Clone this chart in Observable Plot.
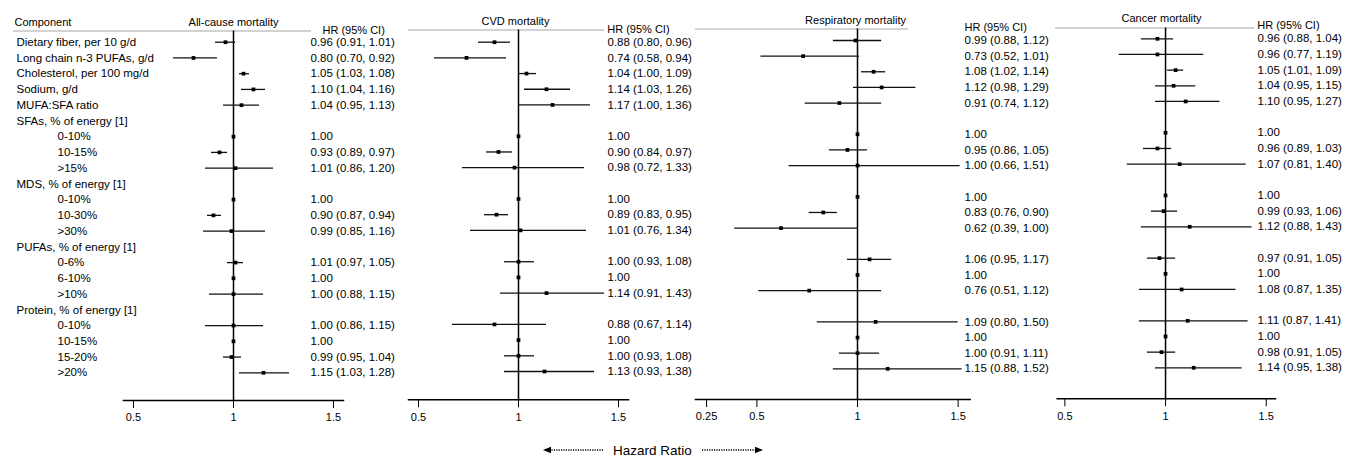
<!DOCTYPE html>
<html><head><meta charset="utf-8">
<script src="https://cdn.jsdelivr.net/npm/d3@7"></script>
<script src="https://cdn.jsdelivr.net/npm/@observablehq/plot@0.6"></script>
<style>
body{margin:0;background:#fff;font-family:"Liberation Sans",Arial,sans-serif;}
#wrap{position:relative;width:1346px;height:456px;overflow:hidden;background:#fff;}
#wrap svg{position:absolute;overflow:visible;}
</style></head><body><div id="wrap"></div>
<script>
// ---- data ----
const rowLabels = [
  "Dietary fiber, per 10 g/d", "Long chain n-3 PUFAs, g/d", "Cholesterol, per 100 mg/d", "Sodium, g/d", "MUFA:SFA ratio",
  "SFAs, % of energy [1]", "0-10%", "10-15%", ">15%",
  "MDS, % of energy [1]", "0-10%", "10-30%", ">30%",
  "PUFAs, % of energy [1]", "0-6%", "6-10%", ">10%",
  "Protein, % of energy [1]", "0-10%", "10-15%", "15-20%", ">20%"
];
const rowIsSub = [0,0,0,0,0, 0,1,1,1, 0,1,1,1, 0,1,1,1, 0,1,1,1,1];

const panelTitles = ["All-cause mortality", "CVD mortality", "Respiratory mortality", "Cancer mortality"];

const allCauseHR = [0.96,0.80,1.05,1.10,1.04, null,1.00,0.93,1.01, null,1.00,0.90,0.99, null,1.01,1.00,1.00, null,1.00,1.00,0.99,1.15];
const allCauseLo = [0.91,0.70,1.03,1.04,0.95, null,null,0.89,0.86, null,null,0.87,0.85, null,0.97,null,0.88, null,0.86,null,0.95,1.03];
const allCauseHi = [1.01,0.92,1.08,1.16,1.13, null,null,0.97,1.20, null,null,0.94,1.16, null,1.05,null,1.15, null,1.15,null,1.04,1.28];

const cvdHR = [0.88,0.74,1.04,1.14,1.17, null,1.00,0.90,0.98, null,1.00,0.89,1.01, null,1.00,1.00,1.14, null,0.88,1.00,1.00,1.13];
const cvdLo = [0.80,0.58,1.00,1.03,1.00, null,null,0.84,0.72, null,null,0.83,0.76, null,0.93,null,0.91, null,0.67,null,0.93,0.93];
const cvdHi = [0.96,0.94,1.09,1.26,1.36, null,null,0.97,1.33, null,null,0.95,1.34, null,1.08,null,1.43, null,1.14,null,1.08,1.38];

const respHR = [0.99,0.73,1.08,1.12,0.91, null,1.00,0.95,1.00, null,1.00,0.83,0.62, null,1.06,1.00,0.76, null,1.09,1.00,1.00,1.15];
const respLo = [0.88,0.52,1.02,0.98,0.74, null,null,0.86,0.66, null,null,0.76,0.39, null,0.95,null,0.51, null,0.80,null,0.91,0.88];
const respHi = [1.12,1.01,1.14,1.29,1.12, null,null,1.05,1.51, null,null,0.90,1.00, null,1.17,null,1.12, null,1.50,null,1.11,1.52];

const cancerHR = [0.96,0.96,1.05,1.04,1.10, null,1.00,0.96,1.07, null,1.00,0.99,1.12, null,0.97,1.00,1.08, null,1.11,1.00,0.98,1.14];
const cancerLo = [0.88,0.77,1.01,0.95,0.95, null,null,0.89,0.81, null,null,0.93,0.88, null,0.91,null,0.87, null,0.87,null,0.91,0.95];
const cancerHi = [1.04,1.19,1.09,1.15,1.27, null,null,1.03,1.40, null,null,1.06,1.43, null,1.05,null,1.35, null,1.41,null,1.05,1.38];

const ticksStd = [0.5, 1, 1.5];
const ticksResp = [0.25, 0.5, 1, 1.5];

// ---- layout (positions / styles) ----
const panels = [
  {title: panelTitles[0], hr: allCauseHR, lo: allCauseLo, hi: allCauseHi, ticks: ticksStd, domain: [0.45, 1.55],
   left: 0, width: 400, mL: 123, mR: 57, mT: 30.5, axisY: 400, rows: [41.7, 372.3],
   headL: -110, headR: 33, titleDx: 0, titleDy: -9, hrDx: -21, hrDy: -0.5, valDx: -33, labels: true},
  {title: panelTitles[1], hr: cvdHR, lo: cvdLo, hi: cvdHi, ticks: ticksStd, domain: [0.45, 1.55],
   left: 400, width: 290, mL: 8, mR: 62, mT: 29.5, axisY: 399.3, rows: [41.7, 371],
   headL: 0, headR: 25, titleDx: -3, titleDy: -8.2, hrDx: -21.3, hrDy: -0.2, valDx: -21, labels: false},
  {title: panelTitles[2], hr: respHR, lo: respLo, hi: respHi, ticks: ticksResp, domain: [0.195, 1.56],
   left: 690, width: 362, mL: 5, mR: 82.3, mT: 28.5, axisY: 399, rows: [40, 368.3],
   headL: 0, headR: 62.7, titleDx: -2, titleDy: -8.5, hrDx: -5.7, hrDy: -1.8, valDx: -5.7, labels: false},
  {title: panelTitles[3], hr: cancerHR, lo: cancerLo, hi: cancerHi, ticks: ticksStd, domain: [0.462, 1.546],
   left: 1052, width: 294, mL: 4.7, mR: 71, mT: 27.5, axisY: 398.3, rows: [38.3, 367.3],
   headL: -1.7, headR: 22, titleDx: -4, titleDy: -9.2, hrDx: -18.3, hrDy: -2.5, valDx: -18, labels: false}
];

const H = 432;
const FONT = "'Liberation Sans', Arial, Helvetica, sans-serif";
const wrap = document.getElementById("wrap");

function fmt(d) {
  return d.hr.toFixed(2) + (d.lo != null ? ` (${d.lo.toFixed(2)}, ${d.hi.toFixed(2)})` : "");
}

for (const p of panels) {
  const data = rowLabels.map((label, i) => ({row: i, label, sub: rowIsSub[i], hr: p.hr[i], lo: p.lo[i], hi: p.hi[i]}));
  const pts = data.filter(d => d.hr != null);
  const cis = data.filter(d => d.lo != null);
  const marks = [
    Plot.frame({anchor: "top", stroke: "#a6a6a6", strokeWidth: 1, insetLeft: p.headL, insetRight: p.headR}),
    Plot.ruleX([1], {stroke: "#000", strokeWidth: 1.5}),
    Plot.frame({anchor: "bottom", stroke: "#000", strokeWidth: 1.5}),
    Plot.ruleY(cis, {y: "row", x1: "lo", x2: "hi", stroke: "#111", strokeWidth: 1.3}),
    Plot.dot(pts, {x: "hr", y: "row", symbol: "square", r: 2.1, fill: "#000", stroke: "none"}),
    Plot.text(pts, {y: "row", text: fmt, frameAnchor: "right", textAnchor: "start", lineAnchor: "middle", dx: p.valDx, fontSize: 11.5, fill: "#000"}),
    Plot.text([p.title], {x: () => 1, text: d => d, frameAnchor: "top", lineAnchor: "middle", dx: p.titleDx, dy: p.titleDy, fontSize: 11, fill: "#000"}),
    Plot.text(["HR (95% CI)"], {text: d => d, frameAnchor: "top-right", textAnchor: "start", lineAnchor: "middle", dx: p.hrDx, dy: p.hrDy, fontSize: 11, fill: "#000"})
  ];
  if (p.labels) {
    marks.push(
      Plot.text(["Component"], {text: d => d, frameAnchor: "top-left", textAnchor: "start", lineAnchor: "middle", dx: -109, dy: -9, fontSize: 11, fill: "#000"}),
      Plot.text(data.filter(d => !d.sub), {y: "row", text: "label", frameAnchor: "left", textAnchor: "start", lineAnchor: "middle", dx: -107, fontSize: 11.5, fill: "#000"}),
      Plot.text(data.filter(d => d.sub), {y: "row", text: "label", frameAnchor: "left", textAnchor: "start", lineAnchor: "middle", dx: -66, fontSize: 11.5, fill: "#000"})
    );
  }
  const svg = Plot.plot({
    width: p.width, height: H,
    marginLeft: p.mL, marginRight: p.mR, marginTop: p.mT, marginBottom: H - p.axisY,
    x: {domain: p.domain, ticks: p.ticks, tickSize: 8, tickPadding: 5, tickFormat: d => String(d), label: null},
    y: {axis: null, domain: [0, rowLabels.length - 1], range: p.rows},
    style: {fontFamily: FONT, fontSize: "11px", color: "#000", background: "transparent", overflow: "visible"},
    marks
  });
  svg.style.left = p.left + "px";
  svg.style.top = "0px";
  wrap.appendChild(svg);
}

// footer: Hazard Ratio with dotted arrows
const ns = "http://www.w3.org/2000/svg";
const foot = document.createElementNS(ns, "svg");
foot.setAttribute("width", 1346); foot.setAttribute("height", 22);
foot.style.left = "0px"; foot.style.top = "432px";
foot.innerHTML = `
  <line x1="549" y1="18" x2="603" y2="18" stroke="#000" stroke-width="1.4" stroke-dasharray="1.2,1.2"/>
  <polygon points="543,18 551,14.8 551,21.2" fill="#000"/>
  <text x="652.5" y="18" text-anchor="middle" dominant-baseline="central" font-family="${FONT}" font-size="13.5" fill="#000">Hazard Ratio</text>
  <line x1="702" y1="18" x2="756" y2="18" stroke="#000" stroke-width="1.4" stroke-dasharray="1.2,1.2"/>
  <polygon points="763,18 755,14.8 755,21.2" fill="#000"/>`;
wrap.appendChild(foot);
</script>
</body></html>
